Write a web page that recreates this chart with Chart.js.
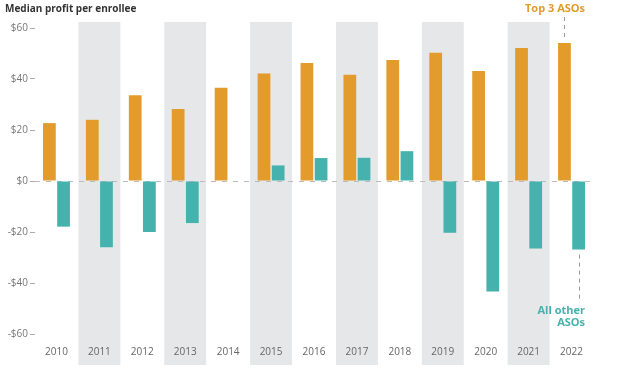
<!doctype html>
<html lang="en">
<head>
    <meta charset="utf-8">
    <title>Median profit per enrollee</title>
    <script src="https://cdn.jsdelivr.net/npm/chart.js"></script>
    <style>
        body { margin: 0; background: #fff; }
        .wrap { position: relative; width: 624px; height: 370px; }
        .title { position: absolute; left: 5px; top: 1px; font: bold 10px "Open Sans", sans-serif; color: #333; }
    </style>
</head>
<body>
    <div class="wrap">
        <div class="title">Median profit per enrollee</div>
        <canvas id="profitChart" width="624" height="370"></canvas>
    </div>

    <script>
        const years = ['2010', '2011', '2012', '2013', '2014', '2015', '2016', '2017', '2018', '2019', '2020', '2021', '2022'];
        const top3 = [22.7, 24, 33.6, 28.2, 36.6, 42.2, 46.3, 41.7, 47.5, 50.3, 43.1, 52.2, 54.1];
        const allOther = [-17.9, -26, -20, -16.5, null, 6.1, 9.0, 9.1, 11.7, -20.3, -43.3, -26.5, -26.9];
        const yTicks = [-60, -40, -20, 0, 20, 40, 60];

        const orange = '#E39B2B';
        const teal = '#45B2AE';
        const font = '"Open Sans", sans-serif';

        // grey bands behind every other year, plus dashed zero line
        const backdrop = {
            id: 'backdrop',
            beforeDraw(chart) {
                const ctx = chart.ctx;
                const x = chart.scales.x;
                const half = (x.getPixelForValue(1) - x.getPixelForValue(0)) / 2 - 0.5;
                ctx.save();
                ctx.fillStyle = '#E6E7E9';
                years.forEach((y, i) => {
                    if (i % 2 === 1) {
                        const cx = x.getPixelForValue(i);
                        ctx.fillRect(cx - half, 22, half * 2, 343);
                    }
                });
                ctx.restore();
            },
            beforeDatasetsDraw(chart) {
                const ctx = chart.ctx;
                const area = chart.chartArea;
                const y0 = chart.scales.y.getPixelForValue(0);
                ctx.save();
                ctx.strokeStyle = '#BBBBBB';
                ctx.lineWidth = 1;
                ctx.setLineDash([5, 6]);
                ctx.beginPath();
                ctx.moveTo(area.left, y0 + 0.5);
                ctx.lineTo(area.right - 3, y0 + 0.5);
                ctx.stroke();
                ctx.restore();
            },
            afterDatasetsDraw(chart) {
                const ctx = chart.ctx;
                const last = years.length - 1;
                const barA = chart.getDatasetMeta(0).data[last];
                const barB = chart.getDatasetMeta(1).data[last];
                ctx.save();
                ctx.strokeStyle = '#999999';
                ctx.lineWidth = 1;
                ctx.setLineDash([4, 4]);
                ctx.beginPath();
                ctx.moveTo(Math.round(barA.x) + 0.5, 17);
                ctx.lineTo(Math.round(barA.x) + 0.5, barA.y - 4);
                ctx.moveTo(Math.round(barB.x) + 0.5, barB.y + 5);
                ctx.lineTo(Math.round(barB.x) + 0.5, 303);
                ctx.stroke();
                ctx.setLineDash([]);
                ctx.font = 'bold 11px ' + font;
                ctx.textAlign = 'right';
                ctx.textBaseline = 'middle';
                ctx.fillStyle = orange;
                ctx.fillText('Top 3 ASOs', 585, 9);
                ctx.fillStyle = teal;
                ctx.fillText('All other', 585, 311);
                ctx.fillText('ASOs', 585, 323);
                ctx.restore();
            }
        };

        const data = {
            labels: years,
            datasets: [
                {
                    label: 'Top 3 ASOs',
                    data: top3,
                    backgroundColor: orange,
                    categoryPercentage: 0.66,
                    barPercentage: 0.9
                },
                {
                    label: 'All other ASOs',
                    data: allOther,
                    backgroundColor: teal,
                    categoryPercentage: 0.66,
                    barPercentage: 0.9
                }
            ]
        };

        const config = {
            type: 'bar',
            data: data,
            options: {
                responsive: false,
                animation: false,
                layout: { padding: { left: 0, right: 31, top: 28, bottom: 0 } },
                plugins: {
                    legend: { display: false },
                    tooltip: { enabled: false }
                },
                scales: {
                    x: {
                        grid: { display: false, drawTicks: false },
                        border: { display: false },
                        ticks: { color: '#666', font: { family: font, size: 10 }, padding: 12 },
                        afterFit(s) { s.height = 36; }
                    },
                    y: {
                        min: -60,
                        max: 60,
                        afterBuildTicks(s) { s.ticks = yTicks.map(v => ({ value: v })); },
                        grid: { drawOnChartArea: false, drawTicks: true, tickLength: 5, color: '#AAAAAA' },
                        border: { display: false },
                        ticks: {
                            color: '#777',
                            font: { family: font, size: 10 },
                            padding: 2,
                            callback: v => (v < 0 ? '-$' + Math.abs(v) : '$' + v)
                        },
                        afterFit(s) { s.width = 35; }
                    }
                }
            },
            plugins: [backdrop]
        };

        const chart = new Chart(document.getElementById('profitChart'), config);
    </script>
</body>
</html>
